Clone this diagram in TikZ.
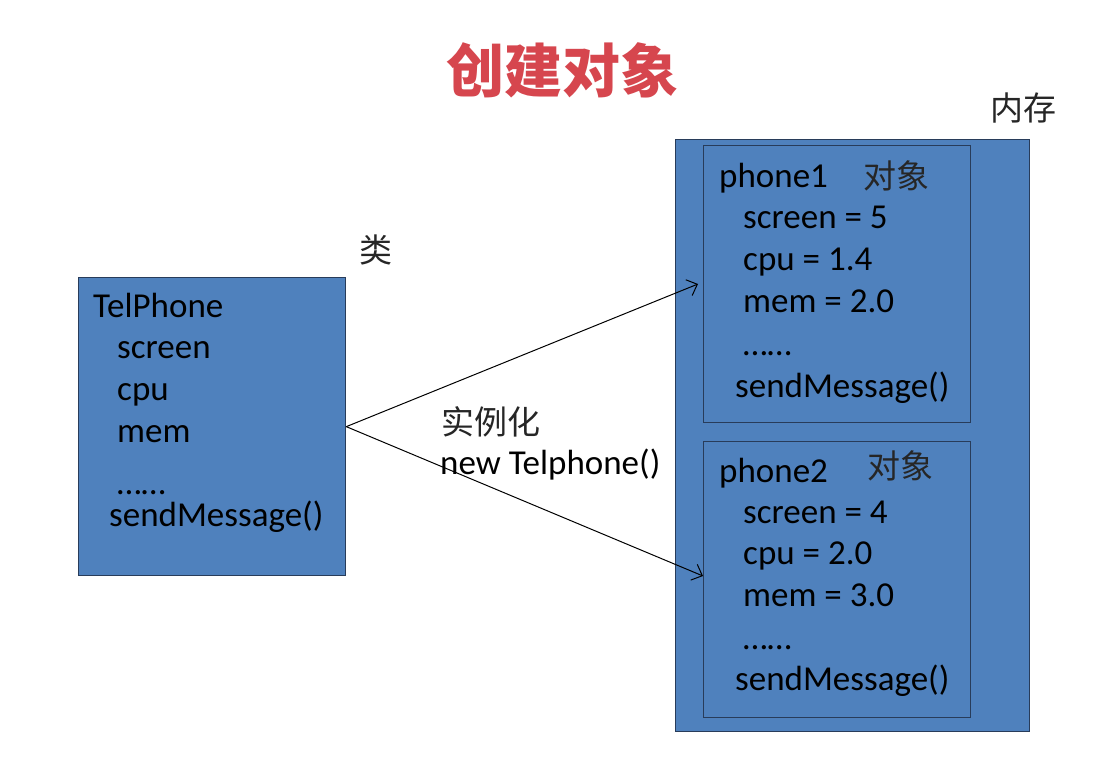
\documentclass[tikz,border=0pt]{standalone}
\usepackage{fontspec}
\setmainfont{Carlito}
\newfontfamily\cjk{Noto Sans CJK SC}
\usetikzlibrary{arrows.meta}
\definecolor{boxblue}{RGB}{79,129,189}
\definecolor{boxedge}{RGB}{40,60,90}
\definecolor{titlered}{RGB}{214,70,78}
\begin{document}
\begin{tikzpicture}[x=1pt,y=-1pt,
  blk/.style={draw=boxedge, fill=boxblue, line width=1.3pt, inner sep=0pt, anchor=north west},
  txt/.style={anchor=base west, inner sep=0pt, font=\fontsize{35}{42}\selectfont, text=black},
  cjktxt/.style={anchor=center, inner sep=0pt, font=\cjk\fontsize{33}{40}\selectfont, text=black!85},
  conn/.style={line width=1pt, draw=black, -{Straight Barb[length=9pt,width=17pt]}}]
\useasboundingbox (0,0) rectangle (1093,757);
\fill[white] (0,0) rectangle (1093,757);

% title
\node[inner sep=0pt, font=\cjk\bfseries\fontsize{58}{64}\selectfont, text=titlered] (title) at (562,70) {创建对象};

% class box
\node[blk, minimum width=267pt, minimum height=298pt] (cls) at (78,277) {};
\node[cjktxt] (lei) at (376,250) {类};
\node[txt] (c0) at (93,317) {TelPhone};
\node[txt] (c1) at (117,358) {screen};
\node[txt] (c2) at (117,400) {cpu};
\node[txt] (c3) at (117,442) {mem};
\node[txt] (c4) at (117,494) {……};
\node[txt] (c5) at (109,526) {sendMessage()};

% memory
\node[blk, minimum width=354pt, minimum height=592pt] (mem) at (675,139) {};
\node[cjktxt] (neicun) at (1023,108) {内存};

% phone1
\node[blk, minimum width=267pt, minimum height=277pt] (p1) at (703,145) {};
\node[txt] (a0) at (719,187) {phone1};
\node[cjktxt] (a0o) at (896,176) {对象};
\node[txt] (a1) at (743,228) {screen = 5};
\node[txt] (a2) at (743,270) {cpu = 1.4};
\node[txt] (a3) at (743,312) {mem = 2.0};
\node[txt] (a4) at (743,355) {……};
\node[txt] (a5) at (735,397) {sendMessage()};

% phone2
\node[blk, minimum width=267pt, minimum height=276pt] (p2) at (703,441) {};
\node[txt] (b0) at (719,482) {phone2};
\node[cjktxt] (b0o) at (900,466) {对象};
\node[txt] (b1) at (743,523) {screen = 4};
\node[txt] (b2) at (743,564) {cpu = 2.0};
\node[txt] (b3) at (743,606) {mem = 3.0};
\node[txt] (b4) at (743,649) {……};
\node[txt] (b5) at (735,690) {sendMessage()};

% instantiate label
\node[cjktxt] (sl) at (491,422) {实例化};
\node[txt] (nt) at (440,474) {new Telphone()};

% connectors
\coordinate (t1) at (698,284);
\coordinate (t2) at (703,576);
\draw[conn] (cls.east) -- (t1);
\draw[conn] (cls.east) -- (t2);
\end{tikzpicture}
\end{document}
